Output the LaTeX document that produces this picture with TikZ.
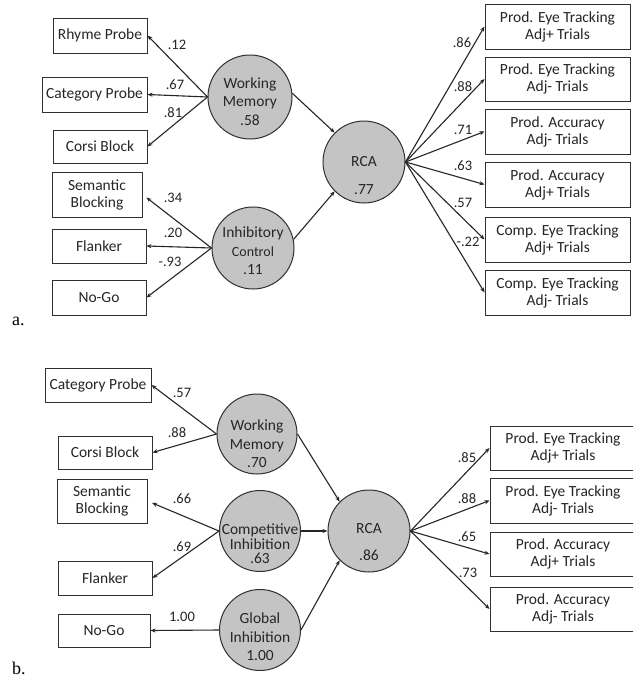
\documentclass[tikz,border=0pt]{standalone}
\usepackage{fontspec}
\setmainfont{Carlito}
\newfontfamily\serifletter{Liberation Serif}
\usetikzlibrary{arrows.meta}
\definecolor{latent}{HTML}{C4C4C4}
\definecolor{edgecol}{HTML}{303030}
\begin{document}
\begin{tikzpicture}[x=1pt,y=-1pt,
  box/.style={draw=edgecol, line width=1pt, inner sep=0pt, align=center,
    font=\fontsize{15.5}{17}\selectfont, text=black!85},
  lat/.style={circle, draw=edgecol, line width=1pt, fill=latent, inner sep=0pt, minimum size=#1},
  lat/.default=82pt,
  ctext/.style={align=center, inner sep=0pt, text=black!85, font=\fontsize{15.5}{18.5}\selectfont},
  arr/.style={-{Stealth[length=5pt,width=4pt]}, line width=1.1pt, draw=black!85},
  lbl/.style={font=\fontsize{14.5}{16}\selectfont, inner sep=0pt, text=black!85},
  panel/.style={font=\serifletter\fontsize{18}{20}\selectfont, inner sep=0pt, anchor=base west}
]
\clip (0,0) rectangle (633,678);
\fill[white] (0,0) rectangle (633,678);

% ---------------- panel a ----------------
\node[box, minimum width=94pt, minimum height=35pt] (rp) at (100,35.5) {Rhyme Probe};
\node[box, minimum width=105pt, minimum height=35pt] (cpa) at (94.5,94.5) {Category Probe};
\node[box, minimum width=94pt, minimum height=33pt] (cba) at (100,146.5) {Corsi Block};
\node[box, minimum width=90pt, minimum height=45pt] (sba) at (97,194.5) {Semantic\\Blocking};
\node[box, minimum width=94pt, minimum height=34pt] (fla) at (99,246) {Flanker};
\node[box, minimum width=94pt, minimum height=35pt] (nga) at (99,297.5) {No-Go};

\node[lat=84pt] (wma) at (250,97) {};
\node[ctext] (wmat) at (250,101.5) {Working\\Memory\\.58};
\node[lat] (ica) at (253,248) {};
\node[ctext] (icat) at (253,251) {Inhibitory\\{\fontsize{14}{17}\selectfont Control}\\.11};
\node[lat] (rcaa) at (364,162) {};
\node[ctext] (rcaat) at (364,162) {RCA};
\node[ctext] (rcaav) at (364,190) {.77};

\node[box, minimum width=145pt, minimum height=45pt] (ra1) at (557.5,26.5) {Prod. Eye Tracking\\Adj+ Trials};
\node[box, minimum width=145pt, minimum height=44pt] (ra2) at (557.5,79) {Prod. Eye Tracking\\Adj- Trials};
\node[box, minimum width=145pt, minimum height=45pt] (ra3) at (557.5,131.5) {Prod. Accuracy\\Adj- Trials};
\node[box, minimum width=145pt, minimum height=45pt] (ra4) at (557.5,184.5) {Prod. Accuracy\\Adj+ Trials};
\node[box, minimum width=145pt, minimum height=45pt] (ra5) at (557.5,239.5) {Comp. Eye Tracking\\Adj+ Trials};
\node[box, minimum width=145pt, minimum height=45pt] (ra6) at (557.5,292.5) {Comp. Eye Tracking\\Adj- Trials};

\draw[arr] (wma.west) -- (rp.east);
\draw[arr] (wma.west) -- (cpa.east);
\draw[arr] (wma.west) -- (cba.east);
\draw[arr, shorten >=5pt] (ica.west) -- (sba.east);
\draw[arr] (ica.west) -- (fla.east);
\draw[arr] (ica.west) -- (nga.east);
\draw[arr] (wma.5) -- (rcaa.135);
\draw[arr] (ica.12) -- (rcaa.225);
\foreach \t in {ra1,ra2,ra3,ra4,ra5,ra6}{\draw[arr] (rcaa.east) -- (\t.west);}

\node[lbl] (la1) at (177,45) {.12};
\node[lbl] (la2) at (175,85) {.67};
\node[lbl] (la3) at (173,113) {.81};
\node[lbl] (la4) at (173,198) {.34};
\node[lbl] (la5) at (173,233) {.20};
\node[lbl] (la6) at (170,262) {-.93};
\node[lbl] (la7) at (462,43) {.86};
\node[lbl] (la8) at (463,87) {.88};
\node[lbl] (la9) at (463,130) {.71};
\node[lbl] (la10) at (463,166) {.63};
\node[lbl] (la11) at (463,203) {.57};
\node[lbl] (la12) at (468,242) {-.22};

\node[panel] (pa) at (12,325) {a.};

% ---------------- panel b ----------------
\node[box, minimum width=106pt, minimum height=34pt] (cpb) at (98,385) {Category Probe};
\node[box, minimum width=94pt, minimum height=33pt] (cbb) at (105,452.5) {Corsi Block};
\node[box, minimum width=90pt, minimum height=44pt] (sbb) at (102,501) {Semantic\\Blocking};
\node[box, minimum width=94pt, minimum height=34pt] (flb) at (105,578) {Flanker};
\node[box, minimum width=92pt, minimum height=33pt] (ngb) at (104,630.5) {No-Go};

\node[lat=80pt] (wmb) at (257,434) {};
\node[ctext] (wmbt) at (257,444) {Working\\Memory\\.70};
\node[lat=81pt] (cib) at (260,531) {};
\node[ctext, font=\fontsize{15.5}{14.5}\selectfont] (cibt) at (260,544) {Competitive\\Inhibition\\.63};
\node[lat=81pt] (gib) at (260,630) {};
\node[ctext] (gibt) at (260,637) {Global\\Inhibition\\1.00};
\node[lat] (rcab) at (369,531) {};
\node[ctext] (rcabt) at (369,529) {RCA};
\node[ctext] (rcabv) at (369,555) {.86};

\node[box, minimum width=146pt, minimum height=44pt] (rb1) at (563,448) {Prod. Eye Tracking\\Adj+ Trials};
\node[box, minimum width=146pt, minimum height=45pt] (rb2) at (563,500.5) {Prod. Eye Tracking\\Adj- Trials};
\node[box, minimum width=146pt, minimum height=44pt] (rb3) at (563,554) {Prod. Accuracy\\Adj+ Trials};
\node[box, minimum width=146pt, minimum height=44pt] (rb4) at (563,609) {Prod. Accuracy\\Adj- Trials};

\draw[arr] (wmb.west) -- (cpb.east);
\draw[arr] (wmb.west) -- (cbb.east);
\draw[arr, shorten >=5pt] (cib.west) -- (sbb.east);
\draw[arr] (cib.west) -- (flb.east);
\draw[arr] (gib.west) -- (ngb.east);
\draw[arr] (wmb.east) -- (rcab.135);
\draw[arr] (cib.east) -- (rcab.west);
\draw[arr] (gib.east) -- (rcab.225);
\foreach \t in {rb1,rb2,rb3,rb4}{\draw[arr] (rcab.east) -- (\t.west);}

\node[lbl] (lb1) at (182,393) {.57};
\node[lbl] (lb2) at (177,433) {.88};
\node[lbl] (lb3) at (182,499) {.66};
\node[lbl] (lb4) at (182,547) {.69};
\node[lbl] (lb5) at (182,617) {1.00};
\node[lbl] (lb6) at (467,458) {.85};
\node[lbl] (lb7) at (467,499) {.88};
\node[lbl] (lb8) at (467,537) {.65};
\node[lbl] (lb9) at (468,573) {.73};

\node[panel] (pb) at (12,674) {b.};
\end{tikzpicture}
\end{document}
